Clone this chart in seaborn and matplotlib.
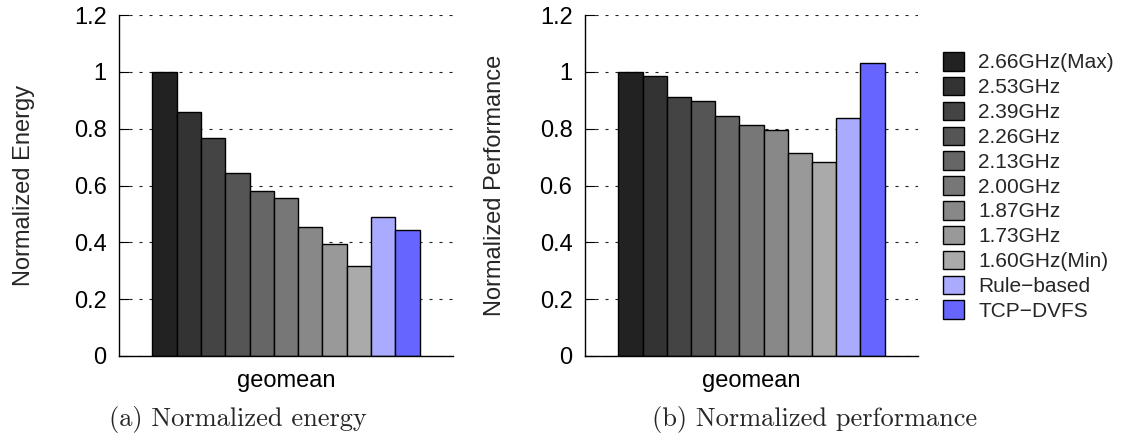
import matplotlib
matplotlib.use("Agg")
import matplotlib.pyplot as plt
import seaborn as sns
import pandas as pd

# Frequency settings and the two policies being compared
settings = ["2.66GHz(Max)", "2.53GHz", "2.39GHz", "2.26GHz", "2.13GHz",
            "2.00GHz", "1.87GHz", "1.73GHz", "1.60GHz(Min)",
            "Rule\u2212based", "TCP\u2212DVFS"]
energy = [1.000, 0.858, 0.766, 0.643, 0.581, 0.556, 0.454, 0.394, 0.317, 0.488, 0.443]
performance = [1.000, 0.987, 0.910, 0.896, 0.843, 0.813, 0.797, 0.715, 0.682, 0.837, 1.030]
category = ["geomean"]
bar_colors = ["#222222", "#333333", "#444444", "#555555", "#666666", "#777777",
              "#888888", "#999999", "#aaaaaa", "#aaaaff", "#6666ff"]
yticks = [0, 0.2, 0.4, 0.6, 0.8, 1.0, 1.2]
ytick_labels = ["0", "0.2", "0.4", "0.6", "0.8", "1", "1.2"]

sns.set_style("ticks")
plt.rcParams["font.family"] = ["Liberation Sans", "DejaVu Sans"]
plt.rcParams["lines.scale_dashes"] = False

W, H = 1123, 437
fig = plt.figure(figsize=(W / 100, H / 100), dpi=100)

def px_axes(x0, x1, ytop, ybot):
    return fig.add_axes([x0 / W, (H - ybot) / H, (x1 - x0) / W, (ybot - ytop) / H])

ax1 = px_axes(119, 453, 15, 356)
ax2 = px_axes(585, 918, 15, 356)

df_energy = pd.DataFrame({"bench": category * len(settings), "setting": settings, "value": energy})
df_perf = pd.DataFrame({"bench": category * len(settings), "setting": settings, "value": performance})

for ax, df, ylabel, lpad in [(ax1, df_energy, "Normalized Energy", 28),
                             (ax2, df_perf, "Normalized Performance", 24)]:
    sns.barplot(data=df, x="bench", y="value", hue="setting", hue_order=settings,
                palette=bar_colors, saturation=1, edgecolor="black", linewidth=1.0,
                width=0.8, gap=0, ax=ax, legend=True)
    ax.set_xlim(-0.5, 0.5)
    ax.set_ylim(0, 1.2)
    ax.set_yticks(yticks)
    ax.set_yticklabels(ytick_labels)
    ax.set_axisbelow(True)
    ax.yaxis.grid(True, color="#222222", linestyle=(0, (2.2, 5.0)), linewidth=0.8)
    ax.xaxis.grid(False)
    for side in ("top", "right"):
        ax.spines[side].set_visible(False)
    for side in ("left", "bottom"):
        ax.spines[side].set_color("black")
        ax.spines[side].set_linewidth(1.0)
    ax.tick_params(axis="y", direction="in", length=7, width=0.8, pad=9,
                   labelsize=17, colors="black")
    ax.tick_params(axis="x", length=0, pad=10, labelsize=17, colors="black")
    ax.set_xlabel("")
    ax.set_ylabel(ylabel, fontsize=17, labelpad=lpad)

handles, labels = ax2.get_legend_handles_labels()
ax1.get_legend().remove()
ax2.get_legend().remove()
fig.legend(handles, labels, loc="upper left",
           bbox_to_anchor=(943 / W, (H - 52) / H), frameon=False,
           fontsize=15, handlelength=1.0, handleheight=1.0,
           handletextpad=0.7, labelspacing=0.21, borderpad=0, borderaxespad=0)

fig.text(238 / W, (H - 426) / H, "(a) Normalized energy", ha="center",
         va="baseline", fontsize=19, family="cmr10")
fig.text(815 / W, (H - 426) / H, "(b) Normalized performance", ha="center",
         va="baseline", fontsize=19, family="cmr10")

fig.savefig("out.png", dpi=100)
